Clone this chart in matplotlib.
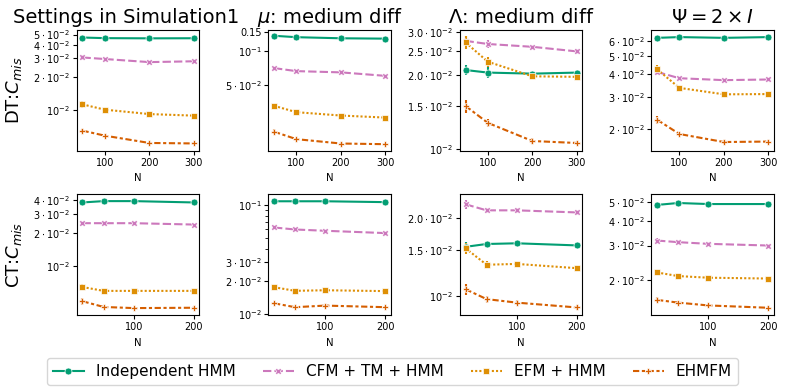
import matplotlib
matplotlib.use("Agg")
import matplotlib.pyplot as plt
from matplotlib.ticker import FixedLocator, NullFormatter, NullLocator

# x values
n_dt = [50, 100, 200, 300]
n_ct = [15, 50, 100, 200]

methods = ["Independent HMM", "CFM + TM + HMM", "EFM + HMM", "EHMFM"]
titles = ["Settings in Simulation1", r"$\mu$: medium diff",
          r"$\Lambda$: medium diff", r"$\Psi = 2\times I$"]
row_labels = [r"DT:$C_{mis}$", r"CT:$C_{mis}$"]

# misclassification rate, one list per method (order as in `methods`)
dt_sim1 = [[0.0469, 0.0463, 0.0461, 0.0462],
           [0.0306, 0.0296, 0.0277, 0.0282],
           [0.0112, 0.0100, 0.0091, 0.0088],
           [0.00638, 0.00573, 0.0049, 0.00485]]
dt_mu = [[0.138, 0.134, 0.131, 0.130],
         [0.0705, 0.0662, 0.0645, 0.0600],
         [0.0322, 0.0282, 0.0263, 0.0252],
         [0.0188, 0.0161, 0.0147, 0.0145]]
dt_lambda = [[0.0210, 0.0205, 0.0203, 0.0205],
             [0.0276, 0.0268, 0.0261, 0.0250],
             [0.0272, 0.0227, 0.0198, 0.0197],
             [0.0150, 0.0128, 0.0108, 0.0106]]
dt_psi = [[0.0627, 0.0633, 0.0627, 0.0633],
          [0.0410, 0.0379, 0.0370, 0.0373],
          [0.0424, 0.0336, 0.0310, 0.0311],
          [0.0226, 0.0189, 0.0171, 0.0172]]
ct_sim1 = [[0.0383, 0.0394, 0.0394, 0.0383],
           [0.0247, 0.0247, 0.0247, 0.0240],
           [0.0064, 0.0059, 0.0059, 0.0059],
           [0.00474, 0.0042, 0.0041, 0.00413]]
ct_mu = [[0.109, 0.109, 0.109, 0.107],
         [0.0626, 0.0600, 0.0584, 0.0556],
         [0.0177, 0.0164, 0.0166, 0.0163],
         [0.0126, 0.0116, 0.0120, 0.0116]]
ct_lambda = [[0.0155, 0.0159, 0.0160, 0.0157],
             [0.0227, 0.0215, 0.0215, 0.0211],
             [0.0153, 0.0132, 0.0133, 0.0128],
             [0.0106, 0.0097, 0.0094, 0.0090]]
ct_psi = [[0.0482, 0.0493, 0.0487, 0.0487],
          [0.0318, 0.0312, 0.0306, 0.0300],
          [0.0219, 0.0210, 0.0206, 0.0204],
          [0.0159, 0.0154, 0.0149, 0.0145]]

# relative half-width of the error bars
dt_sim1_err = [[0.02, 0.01, 0.01, 0.01], [0.05, 0.02, 0.02, 0.02],
               [0.08, 0.03, 0.02, 0.02], [0.04, 0.03, 0.02, 0.02]]
dt_mu_err = [[0.02, 0.01, 0.01, 0.01], [0.03, 0.02, 0.02, 0.02],
             [0.03, 0.02, 0.02, 0.02], [0.05, 0.02, 0.02, 0.02]]
dt_lambda_err = [[0.05, 0.05, 0.02, 0.02], [0.05, 0.04, 0.02, 0.02],
                 [0.06, 0.05, 0.02, 0.02], [0.06, 0.04, 0.025, 0.02]]
dt_psi_err = [[0.02, 0.01, 0.01, 0.01], [0.03, 0.02, 0.02, 0.02],
              [0.06, 0.03, 0.02, 0.02], [0.05, 0.03, 0.02, 0.02]]
ct_sim1_err = [[0.02, 0.01, 0.01, 0.01], [0.02, 0.02, 0.02, 0.02],
               [0.07, 0.03, 0.02, 0.02], [0.07, 0.03, 0.02, 0.02]]
ct_mu_err = [[0.01, 0.01, 0.01, 0.01], [0.04, 0.02, 0.02, 0.02],
             [0.05, 0.02, 0.02, 0.02], [0.03, 0.02, 0.02, 0.02]]
ct_lambda_err = [[0.04, 0.02, 0.01, 0.01], [0.04, 0.02, 0.02, 0.02],
                 [0.05, 0.03, 0.02, 0.02], [0.05, 0.03, 0.02, 0.02]]
ct_psi_err = [[0.04, 0.01, 0.01, 0.01], [0.03, 0.02, 0.02, 0.02],
              [0.03, 0.02, 0.02, 0.02], [0.03, 0.02, 0.02, 0.02]]

ylims = [[(0.00413, 0.0549), (0.0126, 0.155), (0.00984, 0.0305), (0.0153, 0.069)],
         [(0.00353, 0.0454), (0.0098, 0.126), (0.0084, 0.0248), (0.0133, 0.0545)]]

yticks = [[[0.01, 0.02, 0.03, 0.04, 0.05], [0.05, 0.1, 0.15],
           [0.01, 0.015, 0.02, 0.025, 0.03], [0.02, 0.03, 0.04, 0.05, 0.06]],
          [[0.01, 0.02, 0.03, 0.04], [0.01, 0.02, 0.03, 0.1],
           [0.01, 0.015, 0.02], [0.02, 0.03, 0.04, 0.05]]]
ytick_labels = [
    [[r"$10^{-2}$", r"$2\cdot10^{-2}$", r"$3\cdot10^{-2}$", r"$4\cdot10^{-2}$", r"$5\cdot10^{-2}$"],
     [r"$5\cdot10^{-2}$", r"$10^{-1}$", "0.15"],
     [r"$10^{-2}$", r"$1.5\cdot10^{-2}$", r"$2.0\cdot10^{-2}$", r"$2.5\cdot10^{-2}$", r"$3.0\cdot10^{-2}$"],
     [r"$2\cdot10^{-2}$", r"$3\cdot10^{-2}$", r"$4\cdot10^{-2}$", r"$5\cdot10^{-2}$", r"$6\cdot10^{-2}$"]],
    [[r"$10^{-2}$", r"$2\cdot10^{-2}$", r"$3\cdot10^{-2}$", r"$4\cdot10^{-2}$"],
     [r"$10^{-2}$", r"$2\cdot10^{-2}$", r"$3\cdot10^{-2}$", r"$10^{-1}$"],
     [r"$10^{-2}$", r"$1.5\cdot10^{-2}$", r"$2.0\cdot10^{-2}$"],
     [r"$2\cdot10^{-2}$", r"$3\cdot10^{-2}$", r"$4\cdot10^{-2}$", r"$5\cdot10^{-2}$"]]]
ct_mu_minor = [0.04, 0.05, 0.06, 0.07, 0.08, 0.09]

colors = ["#029e73", "#cc78bc", "#de8f05", "#d55e00"]
markers = ["o", "X", "s", "P"]
dashes = ["-", (0, (4, 1.5)), (0, (1, 1)), (0, (3, 1.25, 1.5, 1.25))]

rows = [(n_dt, [dt_sim1, dt_mu, dt_lambda, dt_psi],
         [dt_sim1_err, dt_mu_err, dt_lambda_err, dt_psi_err], [100, 200, 300]),
        (n_ct, [ct_sim1, ct_mu, ct_lambda, ct_psi],
         [ct_sim1_err, ct_mu_err, ct_lambda_err, ct_psi_err], [100, 200])]

fig, axes = plt.subplots(2, 4, figsize=(7.85, 3.92), dpi=100)
fig.subplots_adjust(left=0.098, right=0.986, bottom=0.196, top=0.923,
                    wspace=0.563, hspace=0.36)

handles = []
for r, (xs, panels, errs, xt) in enumerate(rows):
    for c in range(4):
        ax = axes[r, c]
        for k in range(4):
            ys = panels[c][k]
            yerr = [y * e for y, e in zip(ys, errs[c][k])]
            ax.errorbar(xs, ys, yerr=yerr, fmt="none", ecolor=colors[k],
                        elinewidth=1.5, capsize=0, zorder=2)
            h, = ax.plot(xs, ys, color=colors[k], ls=dashes[k], lw=1.5,
                         marker=markers[k], ms=5, mec="white", mew=0.5,
                         label=methods[k], zorder=3)
            if r == 0 and c == 0:
                handles.append(h)
        ax.set_yscale("log")
        ax.set_ylim(*ylims[r][c])
        ax.yaxis.set_major_locator(FixedLocator(yticks[r][c]))
        ax.set_yticklabels(ytick_labels[r][c])
        if r == 1 and c == 1:
            ax.yaxis.set_minor_locator(FixedLocator(ct_mu_minor))
        else:
            ax.yaxis.set_minor_locator(NullLocator())
        ax.yaxis.set_minor_formatter(NullFormatter())
        ax.set_xticks(xt)
        ax.set_xlabel("N", fontsize=7.3)
        ax.tick_params(labelsize=7, length=3, pad=2)
        ax.tick_params(which="minor", length=2)
        if r == 0:
            ax.set_title(titles[c], fontsize=14, pad=5, x=0.4 if c == 0 else 0.5)
        if c == 0:
            ax.set_ylabel(row_labels[r], fontsize=13)
            ax.yaxis.set_label_coords(-0.43, 0.5)

fig.legend(handles, methods, loc="center", bbox_to_anchor=(0.5, 0.052),
           ncol=4, fontsize=11, columnspacing=1.8)

fig.savefig("out.png", dpi=100)
